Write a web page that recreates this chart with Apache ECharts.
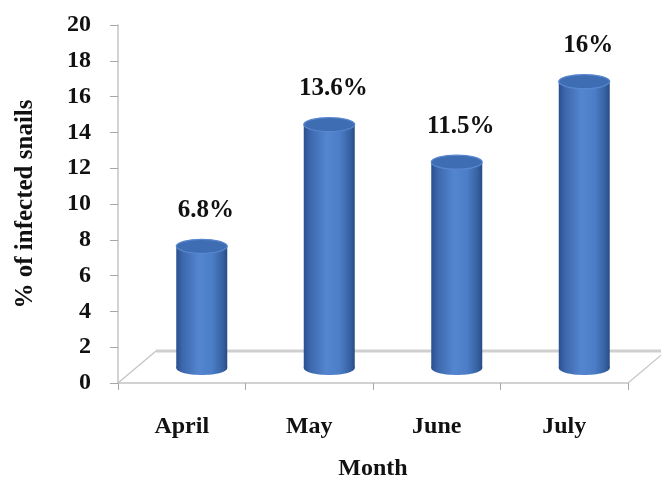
<!DOCTYPE html>
<html>
<head>
<meta charset="utf-8">
<script src="https://cdn.jsdelivr.net/npm/echarts@6/dist/echarts.min.js"></script>
<style>
  html, body { margin: 0; padding: 0; background: #ffffff; }
  #chart { width: 661px; height: 480px; }
</style>
</head>
<body>
<div id="chart"></div>
<script>
// Monthly share of infected snails
const months = ['April', 'May', 'June', 'July'];
const infectedPct = [6.8, 13.6, 11.5, 16];
const valueLabels = ['6.8%', '13.6%', '11.5%', '16%'];
const yTicks = [0, 2, 4, 6, 8, 10, 12, 14, 16, 18, 20];

const FONT = '"Liberation Serif", "Times New Roman", serif';
// pseudo-3D depth of the floor (full) and of the bars (half way in)
const DEPTH_X = 38, DEPTH_Y = -32;
const BAR_DX = 20, BAR_DY = -15;

const chart = echarts.init(document.getElementById('chart'));

function cylinder(params, api) {
  const idx = api.value(0);
  const val = api.value(1);
  const base = api.coord([idx, 0]);
  const top = api.coord([idx, val]);
  const w = api.size([1, 0])[0] * 0.4;
  const cx = base[0] + BAR_DX;
  const by = base[1] + BAR_DY;
  const ty = top[1] + BAR_DY;
  const rx = w / 2, ry = 7;
  const bodyFill = new echarts.graphic.LinearGradient(0, 0, 1, 0, [
    { offset: 0, color: '#2b4f8e' },
    { offset: 0.12, color: '#3c67ad' },
    { offset: 0.45, color: '#5486cf' },
    { offset: 0.7, color: '#4c7ec8' },
    { offset: 0.92, color: '#34609f' },
    { offset: 1, color: '#284a85' }
  ]);
  return {
    type: 'group',
    children: [
      { type: 'ellipse', shape: { cx: cx, cy: by, rx: rx, ry: ry }, style: { fill: bodyFill } },
      { type: 'rect', shape: { x: cx - rx, y: ty, width: w, height: by - ty }, style: { fill: bodyFill } },
      { type: 'ellipse', shape: { cx: cx, cy: ty, rx: rx, ry: ry },
        style: { fill: '#3f6db4', stroke: '#5a88cf', lineWidth: 1.2 } },
      { type: 'text', x: cx + 4, y: ty - 36,
        style: { text: valueLabels[idx], font: 'bold 25px ' + FONT, fill: '#111111',
                 align: 'center', verticalAlign: 'middle' } }
    ]
  };
}

function floor(params, api) {
  const band = api.size([1, 0])[0];
  const p0 = api.coord([0, 0]);
  const p3 = api.coord([months.length - 1, 0]);
  const xl = p0[0] - band / 2, xr = p3[0] + band / 2, y = p0[1];
  const lineStyle = { stroke: '#c4c4c4', lineWidth: 1.2, fill: null };
  return {
    type: 'group',
    silent: true,
    children: [
      { type: 'line', shape: { x1: xl, y1: y, x2: xl + DEPTH_X, y2: y + DEPTH_Y }, style: lineStyle },
      { type: 'line', shape: { x1: xr, y1: y, x2: xr + DEPTH_X, y2: y + DEPTH_Y }, style: lineStyle },
      { type: 'line', shape: { x1: xl + DEPTH_X, y1: y + DEPTH_Y, x2: xr + DEPTH_X, y2: y + DEPTH_Y },
        style: { stroke: '#cfcfcf', lineWidth: 3 } }
    ]
  };
}

chart.setOption({
  backgroundColor: '#ffffff',
  animation: false,
  grid: { left: 118, right: 33, top: 25, bottom: 97, containLabel: false, outerBoundsMode: 'none' },
  xAxis: {
    type: 'category',
    data: months,
    boundaryGap: true,
    name: 'Month',
    nameLocation: 'middle',
    nameGap: 74,
    nameTextStyle: { fontFamily: FONT, fontWeight: 'bold', fontSize: 24, color: '#111111' },
    axisLine: { lineStyle: { color: '#c4c4c4', width: 1.5 } },
    axisTick: { show: true, length: 7, lineStyle: { color: '#a8a8a8' } },
    axisLabel: { margin: 32, fontFamily: FONT, fontWeight: 'bold', fontSize: 24, color: '#111111' },
    splitLine: { show: false }
  },
  yAxis: {
    type: 'value',
    min: yTicks[0],
    max: yTicks[yTicks.length - 1],
    interval: 2,
    name: '% of infected snails',
    nameLocation: 'middle',
    nameGap: 80,
    nameTextStyle: { fontFamily: FONT, fontWeight: 'bold', fontSize: 25, color: '#111111' },
    axisLine: { show: true, lineStyle: { color: '#c4c4c4', width: 1.5 } },
    axisTick: { show: true, length: 8, lineStyle: { color: '#a8a8a8' } },
    axisLabel: { margin: 27, fontFamily: FONT, fontWeight: 'bold', fontSize: 24, color: '#111111' },
    splitLine: { show: false }
  },
  series: [
    { type: 'custom', renderItem: floor, data: [[0]], clip: false, z: 1 },
    {
      type: 'custom',
      renderItem: cylinder,
      data: months.map((m, i) => [i, infectedPct[i]]),
      encode: { x: 0, y: 1 },
      clip: false,
      z: 2
    }
  ]
});
</script>
</body>
</html>
